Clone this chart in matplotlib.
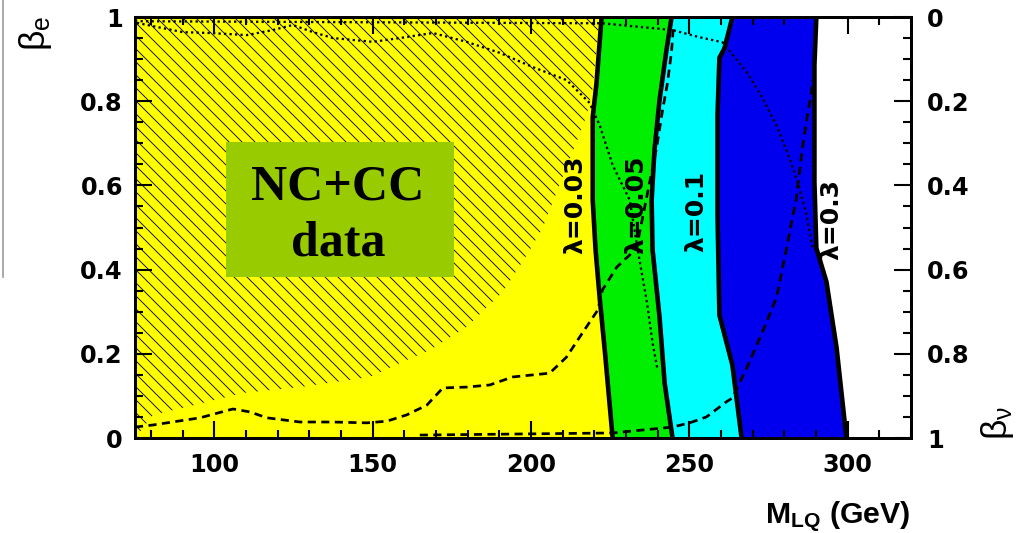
import matplotlib
matplotlib.use('Agg')
import matplotlib.pyplot as plt
import numpy as np
from matplotlib.patches import Rectangle, Polygon
from matplotlib.lines import Line2D
from matplotlib.collections import LineCollection
from matplotlib.ticker import MultipleLocator

plt.rcParams['mathtext.fontset'] = 'custom'
plt.rcParams['mathtext.rm'] = 'Liberation Sans'
plt.rcParams['mathtext.bf'] = 'Liberation Sans:bold'

# exclusion boundaries (M_LQ in GeV, beta_e), top to bottom
m_003 = [222.3, 220.7, 219.5, 219.5, 220.4, 221.7, 223.3, 225.8]
b_003 = [1.0, 0.843, 0.762, 0.565, 0.447, 0.333, 0.209, 0.0]
m_005 = [244.4, 242.8, 240.6, 239.0, 238.1, 238.4, 240.6, 242.2, 244.7]
b_005 = [1.0, 0.922, 0.803, 0.684, 0.565, 0.447, 0.287, 0.131, 0.0]
m_01 = [263.6, 261.1, 259.5, 258.9, 258.9, 259.5, 263.6, 266.5]
b_01 = [1.0, 0.926, 0.903, 0.767, 0.530, 0.292, 0.173, 0.0]
m_03 = [290.1, 289.5, 289.5, 290.1, 293.3, 296.5, 299.6]
b_03 = [1.0, 0.886, 0.608, 0.451, 0.371, 0.214, 0.0]

# hatched area boundary (bottom-left to top)
hatch_m = [75.0, 80.7, 91.4, 109.1, 127.1, 149.1, 158.6, 168.1, 179.7, 191.1,
           198.7, 203.7, 206.9, 214.4, 217.6, 219.5, 221.7]
hatch_b = [0.0, 0.055, 0.074, 0.107, 0.121, 0.145, 0.178, 0.209, 0.264, 0.347,
           0.435, 0.499, 0.561, 0.703, 0.767, 0.831, 1.0]

# dashed curves
dashA_m = [75.0, 80.7, 95.5, 105.9, 111.3, 116.6, 127.1, 137.5, 148.2, 154.5, 160.8,
           167.1, 172.2, 179.7, 187.0, 194.2, 205.9, 211.2, 216.2, 221.1, 222.6,
           227.1, 231.2, 233.4, 239.7, 241.6, 243.1, 244.4, 245.0]
dashA_b = [0.026, 0.031, 0.048, 0.069, 0.062, 0.048, 0.038, 0.038, 0.036, 0.040, 0.055,
           0.078, 0.119, 0.121, 0.126, 0.145, 0.154, 0.192, 0.249, 0.304, 0.352,
           0.406, 0.435, 0.454, 0.691, 0.781, 0.843, 0.919, 0.98]
dashB_m = [164.9, 225.8, 244.7, 250.1, 255.4, 261.7, 263.6, 268.1, 273.1, 277.5,
           280.7, 283.8, 285.7, 287.3, 288.6, 288.9]
dashB_b = [0.007, 0.012, 0.026, 0.036, 0.050, 0.086, 0.095, 0.166, 0.252, 0.333,
           0.451, 0.570, 0.689, 0.767, 0.822, 0.85]

# dotted curves
dotC_m = [75.6, 90.1, 98.7, 110.3, 118.5, 124.8, 131.2, 137.5, 150.1, 158.6, 169.0,
          179.7, 190.1, 200.6, 211.3, 218.5, 221.7, 225.8, 231.2, 233.7, 236.5,
          238.4, 240.0]
dotC_b = [0.986, 0.964, 0.962, 0.957, 0.969, 0.981, 0.964, 0.950, 0.941, 0.950, 0.962,
          0.941, 0.915, 0.881, 0.850, 0.796, 0.743, 0.648, 0.565, 0.447, 0.328,
          0.226, 0.161]
dotD_m = [75.0, 222.6, 244.7, 253.2, 260.5, 268.1, 273.1, 277.5, 281.6, 284.2,
          287.0, 288.9]
dotD_b = [0.99, 0.985, 0.969, 0.952, 0.940, 0.869, 0.808, 0.743, 0.665, 0.608,
          0.530, 0.451]

lam_labels = ['λ=0.03', 'λ=0.05', 'λ=0.1', 'λ=0.3']
lam_pos_m = [214.1, 233.4, 252.3, 294.9]
lam_pos_b = [0.553, 0.553, 0.537, 0.518]

xticks = [100, 150, 200, 250, 300]
yticks = [0, 0.2, 0.4, 0.6, 0.8, 1]
ylabels_e = ['0', '0.2', '0.4', '0.6', '0.8', '1']

fig = plt.figure(figsize=(1030 / 150, 533 / 150), dpi=150)
ax = fig.add_axes([0.1311, 0.1782, 0.7534, 0.7899])
ax.set_xlim(75, 320)
ax.set_ylim(0, 1)

# coloured bands
ax.fill([75] + m_003 + [75], [1] + b_003 + [0], color='#ffff00', lw=0, zorder=1)
ax.fill(m_003 + m_005[::-1], b_003 + b_005[::-1], color='#00ee00', lw=0, zorder=1)
ax.fill(m_005 + m_01[::-1], b_005 + b_01[::-1], color='#00ffff', lw=0, zorder=1)
ax.fill(m_01 + m_03[::-1], b_01 + b_03[::-1], color='#0000ee', lw=0, zorder=1)

# hatched region: 45 degree lines clipped to the region
hatch_poly = Polygon(np.column_stack([hatch_m + [75], hatch_b + [1]]), closed=True,
                     facecolor='none', edgecolor='none', transform=ax.transData)
ax.add_patch(hatch_poly)
ax_w = 0.7534 * 1030
ax_h = 0.7899 * 533
step = 13.0 / ax_w
starts = np.arange(-ax_h / ax_w, 1.0, step)
segs = [[(u, 1.0), (u + ax_h / ax_w, 0.0)] for u in starts]
hatch = LineCollection(segs, colors='black', linewidths=0.42,
                       transform=ax.transAxes, zorder=2)
hatch.set_clip_path(hatch_poly)
ax.add_collection(hatch)

ax.plot(dashA_m, dashA_b, color='black', lw=1.3, dashes=(3, 2), zorder=3)
ax.plot(dashB_m, dashB_b, color='black', lw=1.3, dashes=(3, 2), zorder=3)
ax.plot(dotC_m, dotC_b, color='black', lw=1.1, dashes=(1, 1.4), zorder=3)
ax.plot(dotD_m, dotD_b, color='black', lw=1.1, dashes=(1, 1.4), zorder=3)

for m, b in [(m_003, b_003), (m_005, b_005), (m_01, b_01), (m_03, b_03)]:
    ax.plot(m, b, color='black', lw=2.2, zorder=4)

for lab, xm, yb in zip(lam_labels, lam_pos_m, lam_pos_b):
    ax.text(xm, yb, lab, rotation=90, ha='center', va='center', fontsize=12,
            fontweight='bold', family='DejaVu Sans', zorder=5)

ax.set_xticks(xticks)
ax.set_xticklabels([str(v) for v in xticks])
ax.set_yticks(yticks)
ax.set_yticklabels(ylabels_e)
ax.xaxis.set_minor_locator(MultipleLocator(10))
ax.yaxis.set_minor_locator(MultipleLocator(0.05))
ax.tick_params(which='both', direction='in', top=True, right=False, width=1.0)
ax.tick_params(which='major', length=8)
ax.tick_params(which='minor', length=3.8)
ax.tick_params(axis='y', pad=5.8)
ax.tick_params(axis='x', pad=7)

ax2 = ax.twinx()
ax2.set_ylim(1, 0)
ax2.set_yticks(yticks)
ax2.set_yticklabels(ylabels_e)
ax2.yaxis.set_minor_locator(MultipleLocator(0.05))
ax2.tick_params(which='both', direction='in', width=1.0, pad=7.7)
ax2.tick_params(which='major', length=8)
ax2.tick_params(which='minor', length=3.8)

for a in (ax, ax2):
    for lab in a.get_xticklabels() + a.get_yticklabels():
        lab.set_fontsize(11.5)
        lab.set_fontweight('bold')
        lab.set_family('DejaVu Sans')
    for sp in a.spines.values():
        sp.set_linewidth(1.4)
        sp.set_zorder(6)

fig.text(35 / 1030, 1 - 33 / 533, r'$\mathrm{\beta_{e}}$', rotation=90,
         ha='center', va='center', fontsize=17)
fig.text(998 / 1030, 1 - 423 / 533, r'$\mathrm{\beta_{\nu}}$', rotation=90,
         ha='center', va='center', fontsize=17)
fig.text(910 / 1030, 1 - 523 / 533, r'$\mathbf{M_{LQ}}$ (GeV)', ha='right',
         va='baseline', fontsize=14.5, fontweight='bold', family='Liberation Sans')

# NC+CC data box
fig.add_artist(Rectangle((226 / 1030, 1 - 277 / 533), 228 / 1030, 135 / 533,
                         transform=fig.transFigure, facecolor='#99cc00',
                         edgecolor='none', zorder=7))
fig.text(338 / 1030, 1 - 199 / 533, 'NC+CC', ha='center', va='baseline',
         fontsize=24, fontweight='bold', family='Liberation Serif', zorder=8)
fig.text(338 / 1030, 1 - 255 / 533, 'data', ha='center', va='baseline',
         fontsize=24, fontweight='bold', family='Liberation Serif', zorder=8)

fig.add_artist(Line2D([2.5 / 1030, 2.5 / 1030], [1, 1 - 277 / 533],
                      transform=fig.transFigure, color='#999999', lw=0.8))

fig.savefig('out.png', dpi=150)
